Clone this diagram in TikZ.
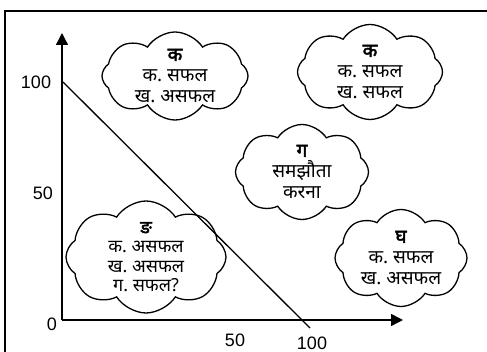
\documentclass[tikz,border=0pt]{standalone}
\usepackage{fontspec}
\setmainfont{Liberation Sans}
\newfontfamily\devfont[Script=Devanagari]{Noto Sans}
\newfontfamily\devbold[Script=Devanagari,FakeBold=2.5]{Noto Sans}
\usetikzlibrary{shapes.symbols,arrows.meta}

\begin{document}
\begin{tikzpicture}[x=1pt,y=-1pt,
  bubble/.style={cloud, cloud puffs=8, cloud puff arc=115, draw, line width=1.3pt,
    inner sep=0pt},
  say/.style={align=center, inner sep=0pt, font=\devfont\fontsize{19}{21}\selectfont},
  axis/.style={line width=1.4pt, -{Triangle[length=12pt,width=12pt]}},
  num/.style={font=\fontsize{18}{18}\selectfont}]
\useasboundingbox (0,0) rectangle (487,352);

% Frame
\draw[line width=1.6pt] (5,352) -- (5,11) -- (487,11);

% Axes
\coordinate (O) at (62,320);
\coordinate (ytip) at (62,33);
\coordinate (xtip) at (403,320);
\draw[axis] (O) -- (ytip);
\draw[axis] (O) -- (xtip);

% Tick labels
\node[num] (y100) at (36,82) {100};
\node[num] (y50) at (43,193) {50};
\node[num] (y0) at (52,324) {0};
\node[num] (x50) at (235,340) {50};
\node[num] (x100) at (312,343) {100};

% Budget line
\coordinate (top) at (63,82);
\coordinate (bottom) at (310,328);
\draw[line width=1.3pt] (top) -- (bottom);

% Outcomes
\node[bubble, minimum width=146pt, minimum height=88pt] (A) at (175,76) {};
\node[say] (Atxt) at (A) {{\devbold क}\\क.\ सफल\\ख.\ असफल};
\node[bubble, minimum width=145pt, minimum height=95pt] (B) at (370,72) {};
\node[say] (Btxt) at (B) {{\devbold क}\\क.\ सफल\\ख.\ सफल};
\node[bubble, minimum width=133pt, minimum height=95pt] (C) at (302,172) {};
\node[say] (Ctxt) at (C) {{\devbold ग}\\समझौता\\करना};
\node[bubble, minimum width=132pt, minimum height=97pt] (D) at (401,258) {};
\node[say] (Dtxt) at (D) {{\devbold घ}\\क.\ सफल\\ख.\ असफल};
\node[bubble, minimum width=160pt, minimum height=112pt] (E) at (146,257) {};
\node[say, font=\devfont\fontsize{18}{19.5}\selectfont] (Etxt) at (E)
  {{\devbold ङ}\\क.\ असफल\\ख.\ असफल\\ग.\ सफल?};
\end{tikzpicture}
\end{document}
